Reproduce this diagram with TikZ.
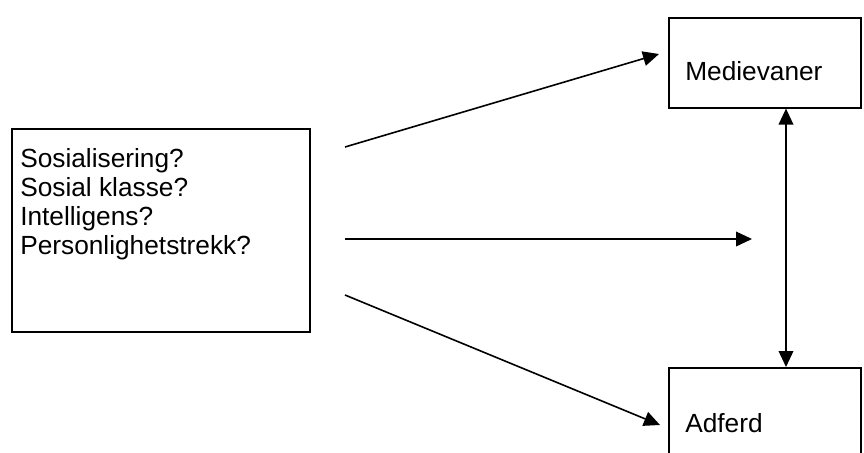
\documentclass[tikz,border=0pt]{standalone}
\usepackage{fontspec}
\setmainfont{Liberation Sans}
\usetikzlibrary{arrows.meta,positioning,calc}

\begin{document}
\begin{tikzpicture}[
    x=0.75pt, y=-0.75pt,
    box/.style={rectangle, draw=black, line width=1.2pt, inner sep=0pt},
    lbl/.style={inner sep=0pt, font=\fontsize{19.7}{21.6}\selectfont},
    link/.style={line width=1.2pt, -{Triangle[length=12pt,width=11pt]}},
    both/.style={line width=1.2pt, {Triangle[length=12pt,width=11pt]}-{Triangle[length=12pt,width=11pt]}},
]
    \useasboundingbox (0,0) rectangle (864,453);
    \clip (0,0) rectangle (864,453);

    % Causes box
    \node[box, minimum width=223.5pt, minimum height=152.25pt, anchor=north west] (src) at (11,128) {};
    \node[lbl, align=left, anchor=base west] (srctxt) at (20,254) {
        Sosialisering?\\
        Sosial klasse?\\
        Intelligens?\\
        Personlighetstrekk?
    };

    % Outcome boxes
    \node[box, minimum width=144pt, minimum height=67.5pt, anchor=north west] (med) at (668,17) {};
    \node[lbl, anchor=base west] (medtxt) at (685,81) {Medievaner};

    \node[box, minimum width=144pt, minimum height=80pt, anchor=north west] (adf) at (668,367) {};
    \node[lbl, anchor=base west] (adftxt) at (685,432) {Adferd};

    % Arrows
    \coordinate (up0) at (345,147);
    \coordinate (up1) at (659,54);
    \coordinate (mid0) at (345,239);
    \coordinate (mid1) at (752,239);
    \coordinate (lo0) at (345,295);
    \coordinate (lo1) at (660,425);
    \coordinate (vx) at (786,0);

    \draw[link] (up0) -- (up1);
    \draw[link] (mid0) -- (mid1);
    \draw[link] (lo0) -- (lo1);
    \draw[both] (med.south -| vx) -- (adf.north -| vx);
\end{tikzpicture}
\end{document}
